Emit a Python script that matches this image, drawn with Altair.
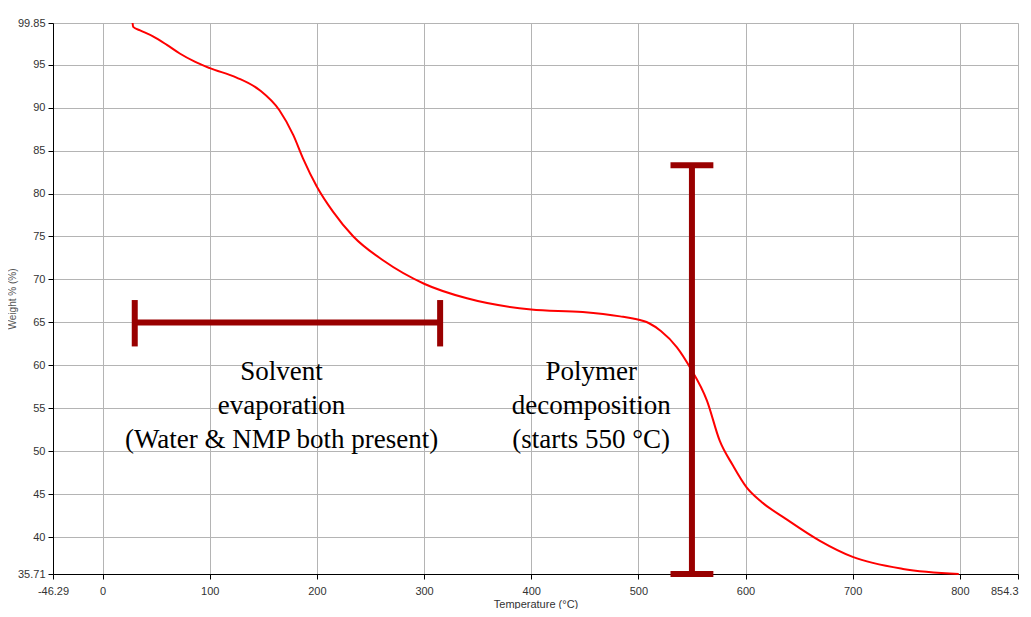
import altair as alt
import pandas as pd

# TGA curve
temps = [28, 28.5, 35, 47, 60, 72, 86, 100, 125, 147, 165, 178, 187, 200, 215, 234, 262, 300, 340,
         400, 448, 483, 495, 510, 521, 536, 548, 564, 576, 588, 601, 614, 638, 669, 700, 747, 799]
weights = [99.85, 99.4, 99.0, 98.3, 97.3, 96.3, 95.35, 94.6, 93.5, 92.0, 89.7, 86.8, 84.1, 80.8, 77.9,
           75.0, 72.2, 69.5, 67.8, 66.5, 66.2, 65.7, 65.45, 64.9, 64.0, 62.1, 59.8, 55.9, 51.2,
           48.4, 45.8, 44.2, 42.1, 39.6, 37.7, 36.3, 35.72]

# annotation bars (x, x2, y, y2)
bar_x = [30, 30, 315, 550, 530, 530]
bar_x2 = [315, 30, 315, 550, 570, 570]
bar_y = [65, 62.2, 62.2, 83.3, 83.3, 35.71]
bar_y2 = [65, 67.6, 67.6, 35.71, 83.3, 35.71]

# annotation texts
note_x = [167, 456]
note_y = [59.2, 59.2]
note_text = ["Solvent\nevaporation\n(Water & NMP both present)",
             "Polymer\ndecomposition\n(starts 550 °C)"]

x_ticks = [-46.29, 0, 100, 200, 300, 400, 500, 600, 700, 800, 854.3]
y_ticks = [35.71, 40, 45, 50, 55, 60, 65, 70, 75, 80, 85, 90, 95, 99.85]

curve = pd.DataFrame({"T": temps, "W": weights})
bars = pd.DataFrame({"x": bar_x, "x2": bar_x2, "y": bar_y, "y2": bar_y2})
notes = pd.DataFrame({"x": note_x, "y": note_y, "text": note_text})

xscale = alt.Scale(domain=[-46.29, 854.3], nice=False, zero=False)
yscale = alt.Scale(domain=[35.71, 99.85], nice=False, zero=False)

xaxis = alt.Axis(values=x_ticks, labelExpr="'' + datum.value", title="Temperature (°C)",
                 labelFont="Liberation Sans", labelFontSize=11, labelColor="#333333",
                 labelAlign={"condition": {"test": "datum.value > 850", "value": "right"}, "value": "center"},
                 titleFont="Liberation Sans", titleFontSize=11, titleFontWeight="normal",
                 titleColor="#333333", titlePadding=2,
                 domainColor="#000000", tickColor="#000000", tickSize=5,
                 gridColor="#b4b4b4", labelPadding=6, labelOverlap=False, labelFlush=False)
yaxis = alt.Axis(values=y_ticks, labelExpr="'' + datum.value", title="Weight % (%)",
                 labelFont="Liberation Sans", labelFontSize=11, labelColor="#333333",
                 titleFont="Liberation Sans", titleFontSize=10, titleFontWeight="normal",
                 titleColor="#555555", titlePadding=0,
                 domainColor="#000000", tickColor="#000000", tickSize=5,
                 gridColor="#b4b4b4", labelPadding=3, labelOverlap=False, labelFlush=False)

line = alt.Chart(curve).mark_line(color="#ff0000", strokeWidth=2, interpolate="monotone").encode(
    x=alt.X("T:Q", scale=xscale, axis=xaxis),
    y=alt.Y("W:Q", scale=yscale, axis=yaxis),
)

rules = alt.Chart(bars).mark_rule(color="#990000", strokeWidth=6).encode(
    x=alt.X("x:Q", scale=xscale),
    x2="x2:Q",
    y=alt.Y("y:Q", scale=yscale),
    y2="y2:Q",
)

texts = alt.Chart(notes).mark_text(
    font="Liberation Serif", fontSize=27, color="#000000", lineBreak="\n",
    lineHeight=34, align="center", baseline="middle"
).encode(
    x=alt.X("x:Q", scale=xscale),
    y=alt.Y("y:Q", scale=yscale),
    text="text:N",
)

chart = alt.layer(line, rules, texts).properties(
    width=965, height=551,
    autosize=alt.AutoSizeParams(type="none"),
    padding={"left": 45, "top": 15, "right": 5, "bottom": 35},
).configure_view(stroke=None).configure(background="#ffffff")

chart.save("out.html", embed_options={"renderer": "svg", "actions": False})
